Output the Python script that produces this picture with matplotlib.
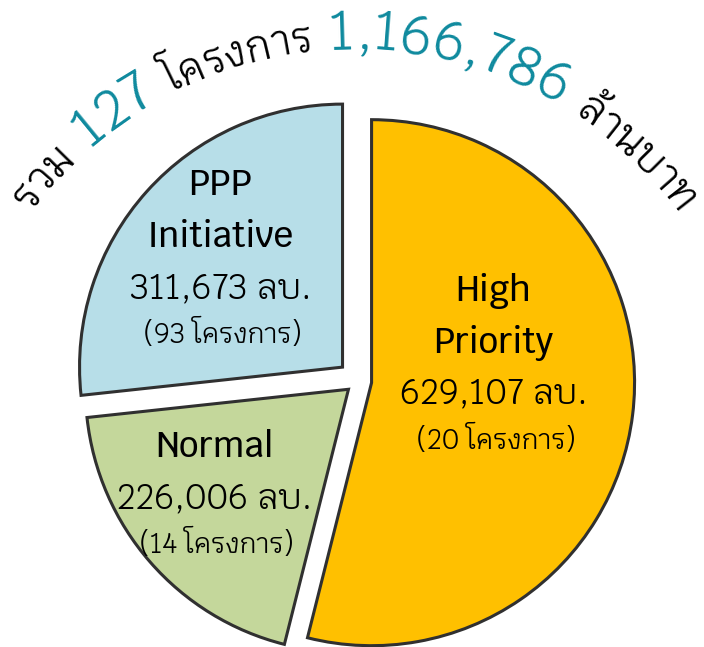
import matplotlib
matplotlib.use('Agg')
import numpy as np
import matplotlib.pyplot as plt
from matplotlib.font_manager import FontProperties

# data
categories = ['High Priority', 'Normal', 'PPP Initiative']
name_lines = [['High', 'Priority'], ['Normal'], ['PPP', 'Initiative']]
budgets = [629107, 226006, 311673]      # ล้านบาท
projects = [20, 14, 93]

colors = ['#FFC000', '#C4D79B', '#B7DEE8']
explode = [0.052, 0.048, 0.079]
# first-line offset from each wedge apex (radius units)
label_offsets = [(0.464, 0.312), (-0.510, -0.259), (-0.464, 0.654)]

FONT = ['Krub', 'Noto Sans', 'DejaVu Sans']
TEAL = '#0F8A9E'
W, H = 704, 647
R_PX = 263.0          # pie radius in pixels
CX, CY = 358, 381     # pie centre in pixels (from top-left)

fig = plt.figure(figsize=(W / 100, H / 100), dpi=100)
ax = fig.add_axes([0, 0, 1, 1])
wedges, _ = ax.pie(budgets, explode=explode, colors=colors, startangle=90,
                   counterclock=False,
                   wedgeprops=dict(edgecolor='#303030', linewidth=2.2,
                                   joinstyle='miter'))
ax.set_aspect('auto')
ax.set_xlim(-CX / R_PX, (W - CX) / R_PX)
ax.set_ylim((CY - H) / R_PX, CY / R_PX)
ax.axis('off')

# labels inside the wedges
for w, names, b, p, off in zip(wedges, name_lines, budgets, projects, label_offsets):
    x0 = w.center[0] + off[0]
    y = w.center[1] + off[1]
    for n in names:
        ax.text(x0, y, n, ha='center', va='baseline', fontsize=25,
                family=FONT, weight='medium')
        y -= 52 / R_PX
    y += 1 / R_PX
    ax.text(x0, y, f'{b:,} ลบ.', ha='center', va='baseline', fontsize=25,
            family=FONT)
    y -= 45 / R_PX
    ax.text(x0 + 2 / R_PX, y, f'({p} โครงการ)', ha='center', va='baseline',
            fontsize=20, family=FONT)

# curved title
title_parts = [('รวม ', 30, 'black'), (f'{sum(projects)}', 40, TEAL),
               (' โครงการ ', 30, 'black'), (f'{sum(budgets):,}', 40, TEAL),
               (' ล้านบาท', 30, 'black')]
GAP = 6                                      # extra px between parts
ARC_CX, ARC_CY, ARC_R = 354, H - 451, 402   # pixels, y up
ARC_MID = np.radians(89.8)

renderer = fig.canvas.get_renderer()
marks = set(chr(c) for c in [0x0E31] + list(range(0x0E34, 0x0E3B)) + list(range(0x0E47, 0x0E4F)))


def adv(s, size):
    fp = FontProperties(family=FONT, size=size)
    w1 = renderer.get_text_width_height_descent('|' + s + '|', fp, ismath=False)[0]
    w0 = renderer.get_text_width_height_descent('||', fp, ismath=False)[0]
    return w1 - w0


items = []
pos = 0.0
for k, (text, size, col) in enumerate(title_parts):
    clusters = []
    for ch in text:
        if ch in marks and clusters:
            clusters[-1] += ch
        else:
            clusters.append(ch)
    prefix = ''
    for cl in clusters:
        a0 = adv(prefix, size) if prefix else 0.0
        a1 = adv(prefix + cl, size)
        if cl.strip():
            items.append((cl, size, col, pos + (a0 + a1) / 2))
        prefix += cl
    pos += adv(text, size)
    if k < len(title_parts) - 1:
        pos += GAP

start = ARC_MID + (pos / 2) / ARC_R
for cl, size, col, s in items:
    phi = start - s / ARC_R
    px = ARC_CX + ARC_R * np.cos(phi)
    py = ARC_CY + ARC_R * np.sin(phi)
    fig.text(px / W, py / H, cl, ha='center', va='baseline', fontsize=size,
             color=col, family=FONT, rotation=np.degrees(phi) - 90,
             rotation_mode='anchor')

fig.savefig('out.png', dpi=100)
